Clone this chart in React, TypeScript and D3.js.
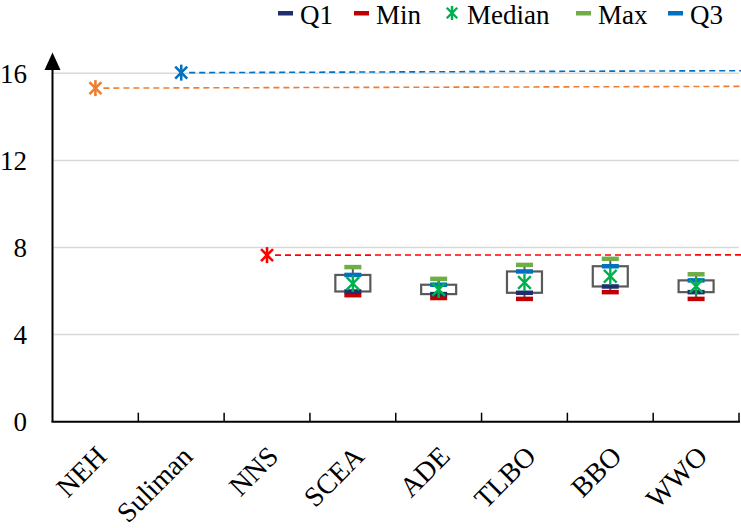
import React from "react";
import * as d3 from "d3";

const categories = ["NEH", "Suliman", "NNS", "SCEA", "ADE", "TLBO", "BBO", "WWO"];
const boxCats = ["SCEA", "ADE", "TLBO", "BBO", "WWO"];
const minVals = [5.81, 5.68, 5.64, 5.95, 5.64];
const q1Vals = [5.98, 5.86, 5.92, 6.21, 5.95];
const medianVals = [6.35, 6.07, 6.39, 6.68, 6.22];
const q3Vals = [6.74, 6.29, 6.9, 7.14, 6.49];
const maxVals = [7.1, 6.56, 7.2, 7.48, 6.77];

const singleCats = ["NEH", "Suliman", "NNS"];
const singleVals = [15.32, 16.03, 7.65];
const lineEndVals = [15.4, 16.12, 7.66];
const singleColors = ["#ED7D31", "#0070C0", "#FF0000"];

const yTicks = [0, 4, 8, 12, 16];

const legendItems = [
  { name: "Q1", color: "#1F2F6E", kind: "dash" },
  { name: "Min", color: "#C00000", kind: "dash" },
  { name: "Median", color: "#00B050", kind: "star" },
  { name: "Max", color: "#70AD47", kind: "dash" },
  { name: "Q3", color: "#0070C0", kind: "dash" },
];
const legendX = [278, 354, 445, 576, 668];

const W = 741;
const H = 528;
const FONT = "Liberation Serif, DejaVu Serif, serif";
const ts: React.CSSProperties = { fontFamily: FONT };

function Star({ cx, cy, r, color, sw }: { cx: number; cy: number; r: number; color: string; sw: number }) {
  const d = r * 0.75;
  return (
    <g stroke={color} strokeWidth={sw} strokeLinecap="butt">
      <line x1={cx - d} y1={cy - d} x2={cx + d} y2={cy + d} />
      <line x1={cx - d} y1={cy + d} x2={cx + d} y2={cy - d} />
      <line x1={cx} y1={cy - r} x2={cx} y2={cy + r} />
    </g>
  );
}

export default function App() {
  const x = d3.scaleBand<string>().domain(categories).range([52.5, 739]);
  const y = d3.scaleLinear().domain([0, 16]).range([421.7, 73.3]);
  const bw = x.bandwidth();
  const cx = (c: string) => (x(c) as number) + bw / 2;
  const x0 = 52.5;
  const xEnd = 741;
  const boxW = 35;
  const mW = 17;
  const mH = 4.5;

  return (
    <svg width={W} height={H} style={{ position: "absolute", left: 0, top: 0, background: "#fff" }}>
      {yTicks.filter((t) => t > 0).map((t) => (
        <line key={t} x1={x0} x2={xEnd - 2} y1={y(t)} y2={y(t)} stroke="#D9D9D9" strokeWidth={1.5} />
      ))}
      {yTicks.map((t) => (
        <text key={t} x={27} y={y(t)} dy="0.35em" textAnchor="end" fontSize={27} fill="#000" style={ts}>
          {t}
        </text>
      ))}
      {singleCats.map((c, i) => (
        <g key={c}>
          <line x1={cx(c) + 8} x2={xEnd} y1={y(singleVals[i])} y2={y(lineEndVals[i])} stroke={singleColors[i]} strokeWidth={1.6} strokeDasharray="6 4" />
          <Star cx={cx(c)} cy={y(singleVals[i])} r={8} color={singleColors[i]} sw={2.6} />
        </g>
      ))}
      {boxCats.map((c, i) => {
        const m = cx(c);
        return (
          <g key={c}>
            <line x1={m} x2={m} y1={y(maxVals[i])} y2={y(minVals[i])} stroke="#595959" strokeWidth={2} />
            <rect x={m - boxW / 2} width={boxW} y={y(q3Vals[i])} height={y(q1Vals[i]) - y(q3Vals[i])} fill="#fff" stroke="#595959" strokeWidth={2.2} />
            <rect x={m - mW / 2} width={mW} y={y(maxVals[i]) - mH / 2} height={mH} fill="#70AD47" />
            <rect x={m - mW / 2} width={mW} y={y(minVals[i]) - mH / 2} height={mH} fill="#C00000" />
            <rect x={m - mW / 2} width={mW} y={y(q1Vals[i]) - mH / 2} height={mH} fill="#1F2F6E" />
            <rect x={m - mW / 2} width={mW} y={y(q3Vals[i]) - mH / 2} height={mH} fill="#0070C0" />
            <Star cx={m} cy={y(medianVals[i])} r={8.5} color="#00B050" sw={2.4} />
          </g>
        );
      })}
      <line x1={x0} x2={x0} y1={y(0)} y2={68} stroke="#000" strokeWidth={2} />
      <path d={`M${x0},52.5 L${x0 - 8},70 L${x0 + 8},70 Z`} fill="#000" />
      <line x1={x0 - 1} x2={xEnd - 1} y1={y(0)} y2={y(0)} stroke="#000" strokeWidth={2} />
      {categories.map((c) => (
        <line key={c} x1={(x(c) as number) + bw} x2={(x(c) as number) + bw} y1={y(0)} y2={y(0) - 9} stroke="#000" strokeWidth={1.5} />
      ))}
      {categories.map((c) => {
        const lx = cx(c) + 13;
        const ly = 458;
        return (
          <text key={c} x={lx} y={ly} textAnchor="end" fontSize={28} transform={`rotate(-45 ${lx} ${ly})`} fill="#000" style={ts}>
            {c}
          </text>
        );
      })}
      {legendItems.map((it, i) => {
        const lx = legendX[i];
        return (
          <g key={it.name}>
            {it.kind === "dash" ? (
              <rect x={lx} y={11} width={15} height={4.5} fill={it.color} />
            ) : (
              <Star cx={lx + 7} cy={13} r={7} color={it.color} sw={2.4} />
            )}
            <text x={legendX[i] + 22} y={24} fontSize={27} fill="#000" style={ts}>
              {it.name}
            </text>
          </g>
        );
      })}
    </svg>
  );
}
